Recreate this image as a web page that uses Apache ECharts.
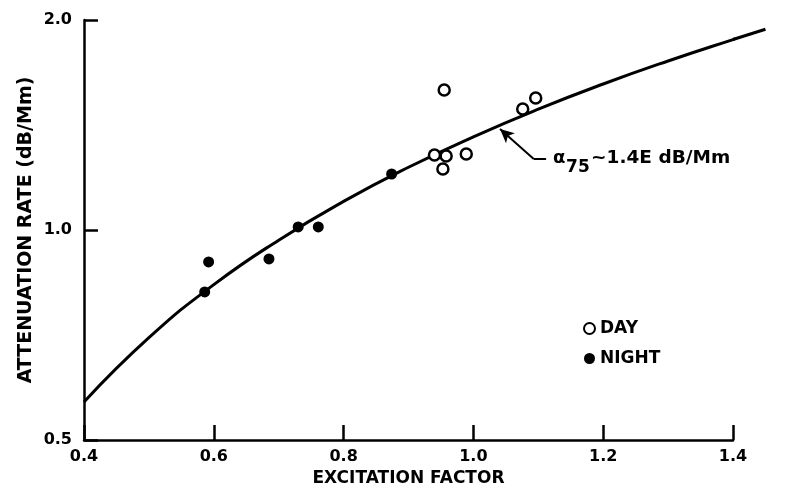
<!DOCTYPE html>
<html>
<head>
<meta charset="utf-8">
<script src="https://cdn.jsdelivr.net/npm/echarts@6/dist/echarts.min.js"></script>
<style>
  html, body { margin: 0; padding: 0; background: #fff; }
  #chart { width: 793px; height: 498px; }
</style>
</head>
<body>
<div id="chart"></div>
<script>
// values
const dayX = [0.940, 0.958, 0.953, 0.989, 0.955, 1.076, 1.096]
const dayY = [1.281, 1.277, 1.223, 1.285, 1.587, 1.491, 1.546]
const nightX = [0.586, 0.592, 0.685, 0.730, 0.761, 0.874]
const nightY = [0.815, 0.900, 0.909, 1.010, 1.010, 1.203]
// fitted curve alpha75 ~ 1.4E (it runs a little past 1.4)
const curveX = [0.4, 0.5, 0.6, 0.7, 0.8, 0.9, 1.0, 1.1, 1.2, 1.3, 1.4, 1.45]
const curveY = [0.567, 0.701, 0.835, 0.967, 1.099, 1.230, 1.360, 1.490, 1.619, 1.747, 1.875, 1.94]
// annotation arrow: tail, elbow, head
const arrowTail = [1.112, 1.264]
const arrowElbow = [1.093, 1.264]
const arrowHead = [1.041, 1.396]

const font = 'DejaVu Sans'
const chart = echarts.init(document.getElementById('chart'))

const pairs = (xs, ys) => xs.map((x, i) => [x, ys[i]])

const option = {
  animation: false,
  backgroundColor: '#fff',
  grid: { left: 84, right: 60, top: 20, bottom: 58 },
  legend: {
    data: ['DAY', 'NIGHT'],
    orient: 'vertical',
    left: 578,
    top: 315,
    itemGap: 13,
    itemWidth: 11,
    itemHeight: 11,
    textStyle: { fontFamily: font, fontWeight: 'bold', fontSize: 17, color: '#000' }
  },
  xAxis: {
    type: 'value',
    min: 0.4,
    max: 1.4,
    interval: 0.2,
    name: 'EXCITATION FACTOR',
    nameLocation: 'middle',
    nameGap: 30,
    nameMoveOverlap: false,
    nameTextStyle: { fontFamily: font, fontWeight: 'bold', fontSize: 17, color: '#000' },
    axisLine: { lineStyle: { color: '#000', width: 2.5 } },
    axisTick: { inside: true, length: 15, lineStyle: { color: '#000', width: 2.5 } },
    axisLabel: {
      margin: 9,
      fontFamily: font, fontWeight: 'bold', fontSize: 16, color: '#000',
      formatter: v => v.toFixed(1)
    },
    splitLine: { show: false }
  },
  yAxis: {
    type: 'log',
    logBase: 2,
    min: 0.5,
    max: 2,
    name: 'ATTENUATION RATE (dB/Mm)',
    nameLocation: 'middle',
    nameGap: 48,
    nameMoveOverlap: false,
    nameTextStyle: { fontFamily: font, fontWeight: 'bold', fontSize: 19, color: '#000' },
    axisLine: { show: true, lineStyle: { color: '#000', width: 2.5 } },
    axisTick: { show: true, inside: true, length: 14, lineStyle: { color: '#000', width: 2.5 } },
    axisLabel: {
      margin: 12,
      fontFamily: font, fontWeight: 'bold', fontSize: 16, color: '#000',
      formatter: v => Number(v).toFixed(1)
    },
    splitLine: { show: false }
  },
  series: [
    {
      name: 'curve',
      type: 'line',
      data: pairs(curveX, curveY),
      smooth: true,
      showSymbol: false,
      clip: false,
      lineStyle: { color: '#000', width: 3 },
      markLine: {
        silent: true,
        animation: false,
        symbol: ['none', 'arrow'],
        symbolSize: [10, 14],
        label: { show: false },
        lineStyle: { color: '#000', width: 2, type: 'solid' },
        data: [
          [{ coord: arrowElbow }, { coord: arrowHead }],
          [{ coord: arrowTail, symbol: 'none' }, { coord: arrowElbow, symbol: 'none' }]
        ]
      },
      z: 2
    },
    {
      name: 'DAY',
      type: 'scatter',
      data: pairs(dayX, dayY),
      symbol: 'circle',
      symbolSize: 11,
      itemStyle: { color: '#fff', borderColor: '#000', borderWidth: 2.5, opacity: 1 },
      z: 3
    },
    {
      name: 'NIGHT',
      type: 'scatter',
      data: pairs(nightX, nightY),
      symbol: 'circle',
      symbolSize: 11,
      itemStyle: { color: '#000', opacity: 1 },
      z: 3
    }
  ]
}

chart.setOption(option)

// the curve's tail past the axis end, and the curve label next to the arrow
const toPx = v => chart.convertToPixel({ gridIndex: 0 }, v)
const n = curveX.length
const tail = [toPx([curveX[n - 2], curveY[n - 2]]), toPx([curveX[n - 1], curveY[n - 1]])]
const p = toPx(arrowTail)
const txt = { fontFamily: font, fontWeight: 'bold', fill: '#000' }
chart.setOption({
  graphic: [
    { type: 'polyline', shape: { points: tail }, style: { stroke: '#000', lineWidth: 3, fill: null }, z: 10 },
    { type: 'text', x: p[0] + 7, y: p[1] - 1, style: Object.assign({ text: 'α', fontSize: 18, verticalAlign: 'middle' }, txt) },
    { type: 'text', x: p[0] + 20, y: p[1] + 9, style: Object.assign({ text: '75', fontSize: 17, verticalAlign: 'middle' }, txt) },
    { type: 'text', x: p[0] + 45, y: p[1] - 1, style: Object.assign({ text: '~1.4E dB/Mm', fontSize: 18.5, verticalAlign: 'middle' }, txt) }
  ]
})
</script>
</body>
</html>
